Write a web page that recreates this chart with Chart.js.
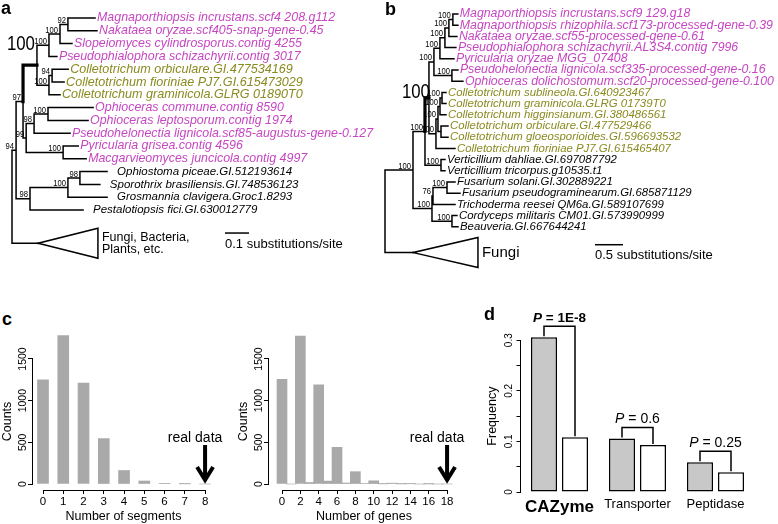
<!DOCTYPE html>
<html>
<head>
<meta charset="utf-8">
<title>Gene cluster figure</title>
<script src="https://cdn.jsdelivr.net/npm/chart.js@4.4.1/dist/chart.umd.min.js"></script>
<style>
  html, body { margin: 0; padding: 0; background: #fff; }
  #fig { position: relative; width: 778px; height: 524px; overflow: hidden; }
  #fig canvas { position: absolute; }
  .tag { position: absolute; font: bold 18px 'Liberation Sans', Arial, sans-serif; line-height: 18px; }
</style>
</head>
<body>
<div id="fig">
  <canvas id="treeA" width="380" height="300" style="left:0px;top:0px"></canvas>
  <canvas id="treeB" width="398" height="300" style="left:380px;top:0px"></canvas>
  <canvas id="segHist" width="230" height="194" style="left:0px;top:330px"></canvas>
  <canvas id="geneHist" width="240" height="194" style="left:230px;top:330px"></canvas>
  <canvas id="enrich" width="308" height="220" style="left:470px;top:304px"></canvas>
  <div class="tag" style="left:1px;top:-1px">a</div>
  <div class="tag" style="left:385px;top:0px">b</div>
  <div class="tag" style="left:2px;top:310px">c</div>
  <div class="tag" style="left:484px;top:305px">d</div>
</div>
<script>
// ---- panel a: tree (leaf numbers in the newick index into namesA) ----
const namesA = [
  'Magnaporthiopsis incrustans.scf4 208.g112',
  'Nakataea oryzae.scf405-snap-gene-0.45',
  'Slopeiomyces cylindrosporus.contig 4255',
  'Pseudophialophora schizachyrii.contig 3017',
  'Colletotrichum orbiculare.GI.477534169',
  'Colletotrichum fioriniae PJ7.GI.615473029',
  'Colletotrichum graminicola.GLRG 01890T0',
  'Ophioceras commune.contig 8590',
  'Ophioceras leptosporum.contig 1974',
  'Pseudohelonectia lignicola.scf85-augustus-gene-0.127',
  'Pyricularia grisea.contig 4596',
  'Macgarvieomyces juncicola.contig 4997',
  'Ophiostoma piceae.GI.512193614',
  'Sporothrix brasiliensis.GI.748536123',
  'Grosmannia clavigera.Groc1.8293',
  'Pestalotiopsis fici.GI.630012779'
];
const groupsA = ['M','M','M','M','C','C','C','M','M','M','M','M','O','O','O','O'];
const treeA =
  '(((((((0:0.113,1:0.121)92:0.033,2:0.05)100:0.046,3:0.033)100:0.05,' +
  '((4:0.067,5:0.05)94:0.013,6:0.046)100:0.05)!100:0.058,' +
  '(((7:0.188,8:0.167)100:0.058,9:0.15)98:0.033,(10:0.063,11:0.096)100:0.154)99:0.013)97:0.029,' +
  '(((12:0.113,13:0.083)98:0.05,14:0.163)100:0.158,15:0.221)98:0.058)94:0.017,X:0.108);';

// ---- panel b: tree ----
const namesB = [
  'Magnaporthiopsis incrustans.scf9 129.g18',
  'Magnaporthiopsis rhizophila.scf173-processed-gene-0.39',
  'Nakataea oryzae.scf55-processed-gene-0.61',
  'Pseudophialophora schizachyrii.AL3S4.contig 7996',
  'Pyricularia oryzae MGG_07408',
  'Pseudohelonectia lignicola.scf335-processed-gene-0.16',
  'Ophioceras dolichostomum.scf20-processed-gene-0.100',
  'Colletotrichum sublineola.GI.640923467',
  'Colletotrichum graminicola.GLRG 01739T0',
  'Colletotrichum higginsianum.GI.380486561',
  'Colletotrichum orbiculare.GI.477529466',
  'Colletotrichum gloeosporioides.GI.596693532',
  'Colletotrichum fioriniae PJ7.GI.615465407',
  'Verticillium dahliae.GI.697087792',
  'Verticillium tricorpus.g10535.t1',
  'Fusarium solani.GI.302889221',
  'Fusarium pseudograminearum.GI.685871129',
  'Trichoderma reesei QM6a.GI.589107699',
  'Cordyceps militaris CM01.GI.573990999',
  'Beauveria.GI.667644241'
];
const groupsB = ['M','M','M','M','M','M','M','C','C','C','C','C','C','O','O','O','O','O','O','O'];
const treeB =
  '(((((((((0:0.089,1:0.089)100:0.071,2:0.143)100:0.071,3:0.196)100:0.089,4:0.25)100:0.107,' +
  '(5:0.107,6:0.196)100:0.321)100:0.089,' +
  '((((7:0.071,8:0.071)100:0.036,9:0.107)100:0.036,(10:0.125,11:0.125):0.054)100:0.036,12:0.339)100:0.125)!100:0.071,' +
  '(13:0.071,14:0.071)100:0.286)100:0.214,' +
  '(((15:0.143,16:0.232)100:0.25,17:0.393)76:0.018,(18:0.089,19:0.107)100:0.357)100:0.339)100:0.5,' +
  'X:0.5);';

// ---- panel c: null distributions ----
const segBins = [0, 1, 2, 3, 4, 5, 6, 7, 8];
const segCounts = [1250, 1780, 1210, 545, 162, 36, 8, 2, 0];
const geneBins = [0, 1, 2, 3, 4, 5, 6, 7, 8, 9, 10, 11, 12, 13, 14, 15, 16, 17, 18];
const geneCounts = [1255, 0, 1775, 18, 1190, 35, 440, 12, 148, 5, 38, 2, 10, 1, 3, 0, 1, 0, 0];
const realSegments = 8;
const realGenes = 18;

// ---- panel d: enrichment ----
const families = ['CAZyme', 'Transporter', 'Peptidase'];
const clusterFreq = [0.306, 0.106, 0.059];
const genomeFreq = [0.108, 0.093, 0.039];
const pValues = ['1E-8', '0.6', '0.25'];

const FONT = "'Liberation Sans', Arial, Helvetica, sans-serif";
const groupColor = { M: '#c646c2', C: '#8a8a20', O: '#000000' };

Chart.defaults.font.family = FONT;
Chart.defaults.color = '#000';
Chart.defaults.animation = false;
Chart.defaults.events = [];
Chart.defaults.plugins.legend.display = false;
Chart.defaults.plugins.tooltip.enabled = false;

function text(ctx, str, x, y, font, o = {}) {
  ctx.save();
  ctx.font = font;
  ctx.fillStyle = o.color || '#000';
  ctx.textAlign = o.align || 'left';
  ctx.textBaseline = o.baseline || 'alphabetic';
  ctx.translate(x, y);
  if (o.rotate) ctx.rotate(o.rotate);
  if (o.squeeze) ctx.scale(o.squeeze, 1);
  ctx.fillText(str, 0, 0);
  ctx.restore();
}

function parseNewick(str) {
  let i = 0;
  function node() {
    const n = { children: [], label: '', len: 0 };
    if (str[i] === '(') {
      i++;
      n.children.push(node());
      while (str[i] === ',') { i++; n.children.push(node()); }
      i++;
    }
    while (i < str.length && !',():;'.includes(str[i])) n.label += str[i++];
    if (str[i] === ':') {
      i++;
      let num = '';
      while (i < str.length && !',();'.includes(str[i])) num += str[i++];
      n.len = parseFloat(num);
    }
    return n;
  }
  return node();
}

function drawTree(id, newick, names, groups, cfg) {
  const root = parseNewick(newick);
  const leaves = [], inner = [];
  let outgroup = null;
  (function place(n, from) {
    n.x = from + n.len;
    if (n.children.length) {
      n.children.forEach(c => place(c, n.x));
      n.y = (n.children[0].y + n.children[n.children.length - 1].y) / 2;
      inner.push(n);
    } else if (n.label === 'X') {
      n.y = cfg.outgroupRow;
      outgroup = n;
    } else {
      n.y = Number(n.label);
      leaves.push(n);
    }
  })(root, 0);

  const thin = [], thick = [];
  const gap = () => ({ x: NaN, y: NaN });
  inner.forEach(n => {
    const ys = n.children.map(c => c.y);
    thin.push({ x: n.x, y: Math.min(...ys) }, { x: n.x, y: Math.max(...ys) }, gap());
    n.children.forEach(c => {
      const bold = c.label.startsWith('!');
      (bold ? thick : thin).push({ x: n.x, y: c.y }, { x: c.x, y: c.y }, gap());
      if (bold) thick.push({ x: n.x, y: c.y }, { x: n.x, y: n.y }, gap());
    });
  });
  const ox = outgroup.x, oy = outgroup.y;
  const tri = [
    { x: ox, y: oy },
    { x: ox + cfg.outgroupDepth, y: oy - cfg.outgroupSpread },
    { x: ox + cfg.outgroupDepth, y: oy + cfg.outgroupSpread },
    { x: ox, y: oy }
  ];

  const treeText = {
    id: 'treeText',
    afterDatasetsDraw(chart) {
      const ctx = chart.ctx;
      const px = v => chart.scales.x.getPixelForValue(v);
      const py = v => chart.scales.y.getPixelForValue(v);
      leaves.forEach(n => {
        const i = Number(n.label), g = groups[i];
        text(ctx, names[i], px(n.x) + cfg.gap[g], py(n.y), 'italic ' + cfg.size[g] + 'px ' + FONT,
          { color: groupColor[g], baseline: 'middle' });
      });
      inner.forEach(n => {
        if (!n.label) return;
        if (n.label[0] === '!') {
          text(ctx, n.label.slice(1), px(n.x) + cfg.bigDx, py(n.y) + cfg.bigDy, '21px ' + FONT,
            { align: 'right', squeeze: 0.8 });
        } else {
          text(ctx, n.label, px(n.x) - 2, py(n.y) - 1.5, '9px ' + FONT, { align: 'right', squeeze: 0.85 });
        }
      });
      const tx = px(ox + cfg.outgroupDepth) + 4;
      const k0 = (cfg.outgroupText.length - 1) / 2;
      cfg.outgroupText.forEach((t, k) => {
        text(ctx, t, tx, py(oy) + (k - k0) * 12, cfg.outgroupFont + 'px ' + FONT, { baseline: 'middle' });
      });
      const bx = px(cfg.bar.x), by = py(cfg.bar.row);
      ctx.save();
      ctx.strokeStyle = '#000';
      ctx.lineWidth = 1.5;
      ctx.beginPath();
      ctx.moveTo(bx, by);
      ctx.lineTo(px(cfg.bar.x + cfg.bar.len), by);
      ctx.stroke();
      ctx.restore();
      text(ctx, cfg.bar.len + ' substitutions/site', bx, by + 11, '13px ' + FONT, { baseline: 'middle' });
    }
  };

  const line = { showLine: true, pointRadius: 0, borderColor: '#000', borderCapStyle: 'square',
    borderJoinStyle: 'miter', spanGaps: false, tension: 0 };
  return new Chart(document.getElementById(id), {
    type: 'scatter',
    data: {
      datasets: [
        Object.assign({ data: thin, borderWidth: 1.5 }, line),
        Object.assign({ data: thick, borderWidth: 3.2 }, line),
        Object.assign({ data: tri, borderWidth: 1.5 }, line)
      ]
    },
    options: {
      responsive: false,
      devicePixelRatio: 1,
      layout: { padding: 0, autoPadding: false },
      scales: {
        x: { type: 'linear', display: false, min: cfg.xRange[0], max: cfg.xRange[1] },
        y: { type: 'linear', display: false, reverse: true, min: cfg.yRange[0], max: cfg.yRange[1] }
      }
    },
    plugins: [treeText]
  });
}

drawTree('treeA', treeA, namesA, groupsA, {
  xRange: [-0.05, 1.5333], yRange: [-1.40625, 22.03125],
  gap: { M: 2, C: 2, O: 10 }, size: { M: 12.4, C: 12.6, O: 11.5 },
  bigDx: -2, bigDy: -15,
  outgroupRow: 17.6, outgroupDepth: 0.25, outgroupSpread: 1.17,
  outgroupText: ['Fungi, Bacteria,', 'Plants, etc.'], outgroupFont: 12.5,
  bar: { x: 0.8875, row: 16.8, len: 0.1 }
});

drawTree('treeB', treeB, namesB, groupsB, {
  xRange: [-0.0893, 7.0179], yRange: [-1.25, 25.536],
  gap: { M: 2, C: 2, O: 2 }, size: { M: 12.3, C: 11.4, O: 11.4 },
  bigDx: 1, bigDy: 0,
  outgroupRow: 21.3, outgroupDepth: 1.16, outgroupSpread: 1.34,
  outgroupText: ['Fungi'], outgroupFont: 15,
  bar: { x: 3.75, row: 20.6, len: 0.5 }
});

// ---- R style axes ----
const tickMarks = { drawOnChartArea: false, drawTicks: true, tickLength: 4, color: '#000', lineWidth: 1, offset: false };

// ticks only where R puts them: lo..hi every step
function rTicks(lo, hi, step) {
  return axis => {
    const ticks = [];
    const n = Math.round((hi - lo) / step);
    for (let k = 0; k <= n; k++) ticks.push({ value: +(lo + k * step).toFixed(6) });
    axis.ticks = ticks;
  };
}

function rAxes(cfg) {
  return {
    id: 'rAxes',
    afterDraw(chart) {
      const { ctx, chartArea } = chart, sx = chart.scales.x, sy = chart.scales.y;
      const al = p => Math.round(p - 0.5) + 0.5;
      const yv = sy.ticks.map(t => t.value);
      const yA = sy.getPixelForValue(yv[0]), yB = sy.getPixelForValue(yv[yv.length - 1]);
      ctx.save();
      ctx.strokeStyle = '#000';
      ctx.lineWidth = 1;
      ctx.beginPath();
      ctx.moveTo(al(chartArea.left), al(yA) + 0.5);
      ctx.lineTo(al(chartArea.left), al(yB) - 0.5);
      if (cfg.xLine) {
        const xv = sx.ticks.map(t => t.value);
        ctx.moveTo(al(sx.getPixelForValue(xv[0])) - 0.5, al(chartArea.bottom));
        ctx.lineTo(al(sx.getPixelForValue(xv[xv.length - 1])) + 0.5, al(chartArea.bottom));
      }
      ctx.stroke();
      ctx.restore();
      yv.forEach(v => {
        const s = cfg.yLabel(v);
        if (s === null) return;
        text(ctx, s, chartArea.left - cfg.labelDx, sy.getPixelForValue(v), cfg.tickFont + 'px ' + FONT,
          { align: 'center', baseline: 'middle', rotate: -Math.PI / 2 });
      });
      text(ctx, cfg.title, chartArea.left - cfg.titleDx, (yA + yB) / 2, cfg.titleFont + 'px ' + FONT,
        { align: 'center', baseline: 'middle', rotate: -Math.PI / 2 });
    }
  };
}

function realData(value) {
  return {
    id: 'realData',
    afterDatasetsDraw(chart) {
      const ctx = chart.ctx;
      const x = chart.scales.x.getPixelForValue(value);
      const y0 = chart.scales.y.getPixelForValue(0);
      ctx.save();
      ctx.strokeStyle = '#000';
      ctx.lineWidth = 4;
      ctx.lineJoin = 'miter';
      ctx.beginPath();
      ctx.moveTo(x, y0 - 39);
      ctx.lineTo(x, y0 - 4);
      ctx.moveTo(x - 8, y0 - 17);
      ctx.lineTo(x, y0 - 4);
      ctx.lineTo(x + 8, y0 - 17);
      ctx.stroke();
      ctx.restore();
      text(ctx, 'real data', x - 10, y0 - 42, '14px ' + FONT, { align: 'center' });
    }
  };
}

function histogram(id, bins, counts, cfg) {
  return new Chart(document.getElementById(id), {
    type: 'bar',
    data: {
      datasets: [{
        data: bins.map((b, i) => ({ x: b, y: counts[i] })),
        backgroundColor: '#a9a9a9', borderWidth: 0, barThickness: cfg.barWidth
      }]
    },
    options: {
      responsive: false,
      devicePixelRatio: 1,
      layout: { padding: { top: 4, right: cfg.padRight, left: 0, bottom: 0 } },
      scales: {
        x: {
          type: 'linear', min: cfg.xRange[0], max: cfg.xRange[1], offset: false,
          grid: tickMarks, border: { display: false },
          ticks: { padding: 1, autoSkip: false, maxRotation: 0, font: { size: 11.5 } },
          afterBuildTicks: rTicks(0, bins[bins.length - 1], cfg.xStep),
          afterFit: s => { s.height = 34; },
          title: { display: true, text: cfg.xTitle, font: { size: 12.5 }, padding: 0 }
        },
        y: {
          min: -72, max: 1800,
          grid: tickMarks, border: { display: false },
          ticks: { display: false, autoSkip: false },
          afterBuildTicks: rTicks(0, 1500, 500),
          afterFit: s => { s.width = cfg.axisLeft; }
        }
      }
    },
    plugins: [
      rAxes({ xLine: true, yLabel: v => String(v), labelDx: 9, titleDx: 24, title: 'Counts', tickFont: 10.5, titleFont: 12.5 }),
      realData(cfg.real)
    ]
  });
}

histogram('segHist', segBins, segCounts, {
  barWidth: 11, xRange: [-0.543, 8.49], padRight: 15, axisLeft: 32, xStep: 1,
  xTitle: 'Number of segments', real: realSegments
});
histogram('geneHist', geneBins, geneCounts, {
  barWidth: 10, xRange: [-1.527, 19.41], padRight: 10, axisLeft: 38, xStep: 2,
  xTitle: 'Number of genes', real: realGenes
});

// ---- panel d ----
const pBrackets = {
  id: 'pBrackets',
  afterDatasetsDraw(chart) {
    const ctx = chart.ctx;
    const a = chart.getDatasetMeta(0).data, b = chart.getDatasetMeta(1).data;
    pValues.forEach((p, i) => {
      const x1 = a[i].x, x2 = b[i].x;
      const top = Math.min(a[i].y, b[i].y) - 11;
      ctx.save();
      ctx.strokeStyle = '#000';
      ctx.lineWidth = 1.5;
      ctx.beginPath();
      ctx.moveTo(x1, a[i].y - 1);
      ctx.lineTo(x1, top);
      ctx.lineTo(x2, top);
      ctx.lineTo(x2, b[i].y - 1);
      ctx.stroke();
      const bold = i === 0 ? 'bold ' : '';
      const size = i === 0 ? 13.5 : 14;
      const f1 = 'italic ' + bold + size + 'px ' + FONT, f2 = bold + size + 'px ' + FONT;
      ctx.font = f1;
      const w1 = ctx.measureText('P').width;
      ctx.font = f2;
      const w2 = ctx.measureText(' = ' + p).width;
      const start = (x1 + x2) / 2 - (w1 + w2) / 2;
      ctx.restore();
      text(ctx, 'P', start, top - 4, f1);
      text(ctx, ' = ' + p, start + w1, top - 4, f2);
    });
  }
};

new Chart(document.getElementById('enrich'), {
  type: 'bar',
  data: {
    labels: families,
    datasets: [
      { data: clusterFreq, backgroundColor: '#c8c8c8' },
      { data: genomeFreq, backgroundColor: '#ffffff' }
    ].map(d => Object.assign(d, {
      borderColor: '#000', borderWidth: 1.5, borderSkipped: false,
      categoryPercentage: 0.795, barPercentage: 0.839
    }))
  },
  options: {
    responsive: false,
    devicePixelRatio: 1,
    layout: { padding: { top: 16, right: 23.5, left: 0, bottom: 0 } },
    scales: {
      x: {
        grid: { display: false, drawTicks: false }, border: { display: false },
        ticks: { padding: 5, font: c => c.index === 0 ? { size: 17, weight: 'bold' } : { size: 13 } },
        afterFit: s => { s.height = 32; }
      },
      y: {
        min: 0, max: 0.34,
        grid: tickMarks, border: { display: false },
        ticks: { display: false, autoSkip: false },
        afterBuildTicks: rTicks(0, 0.3, 0.05),
        afterFit: s => { s.width = 50.5; }
      }
    }
  },
  plugins: [
    rAxes({
      xLine: false,
      yLabel: v => Math.abs(v * 10 - Math.round(v * 10)) < 1e-6 ? (v === 0 ? '0' : v.toFixed(1)) : null,
      labelDx: 11, titleDx: 28, title: 'Frequency', tickFont: 10, titleFont: 12.5
    }),
    pBrackets
  ]
});
</script>
</body>
</html>
